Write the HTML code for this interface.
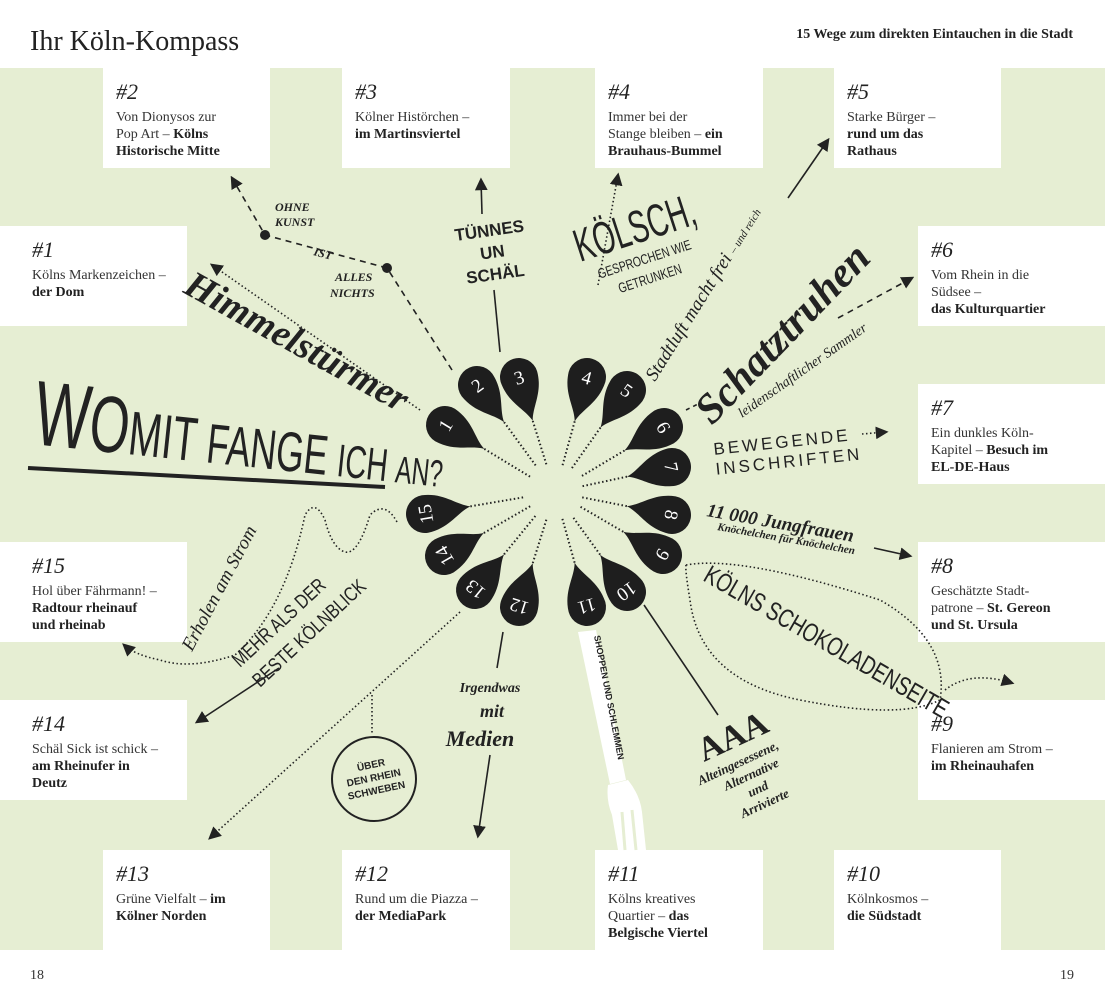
<!DOCTYPE html>
<html><head><meta charset="utf-8"><style>
body{margin:0;background:#fff}
svg{display:block}
.h{font-family:"Liberation Serif",serif;font-style:italic;font-size:22px;fill:#222}
.b{font-family:"Liberation Serif",serif;font-size:14px;fill:#333}
.bb{font-weight:bold;fill:#222}
.pn{font-family:"Liberation Serif",serif;font-size:19px;fill:#fff;text-anchor:middle}
.c{font-family:"Liberation Sans",sans-serif;fill:#222}
.s{font-family:"Liberation Serif",serif;font-style:italic;font-weight:bold;fill:#222}
</style></head><body>
<svg width="1105" height="1000" viewBox="0 0 1105 1000" xmlns="http://www.w3.org/2000/svg">
<defs>
<path id="pin" d="M46 0 C32 4,22 18,0 19 A19 19 0 0 1 0 -19 C22 -18,32 -4,46 0 Z" fill="#1e1e1e"/>
<marker id="ar" viewBox="0 0 10 10" refX="8" refY="5" markerWidth="8" markerHeight="8" orient="auto"><path d="M0 0L10 5L0 10Z" fill="#222"/></marker>
</defs>
<rect x="0" y="68" width="1105" height="882" fill="#e6eed3"/>
<text x="30" y="50" font-family="Liberation Serif,serif" font-size="28" fill="#222">Ihr Köln-Kompass</text>
<text x="1073" y="38" text-anchor="end" font-family="Liberation Serif,serif" font-size="14" font-weight="bold" fill="#222">15 Wege zum direkten Eintauchen in die Stadt</text>
<text x="30" y="979" class="b">18</text><text x="1060" y="979" class="b">19</text>

<g fill="#fff">
<rect x="103" y="68" width="167" height="100"/><rect x="342" y="68" width="168" height="100"/>
<rect x="595" y="68" width="168" height="100"/><rect x="834" y="68" width="167" height="100"/>
<rect x="0" y="226" width="187" height="100"/><rect x="0" y="542" width="187" height="100"/><rect x="0" y="700" width="187" height="100"/>
<rect x="918" y="226" width="187" height="100"/><rect x="918" y="384" width="187" height="100"/><rect x="918" y="542" width="187" height="100"/><rect x="918" y="700" width="187" height="100"/>
<rect x="103" y="850" width="167" height="100"/><rect x="342" y="850" width="168" height="100"/>
<rect x="595" y="850" width="168" height="100"/><rect x="834" y="850" width="167" height="100"/>
</g>
<g>
<text x="116" y="99" class="h">#2</text><text x="116" y="121" class="b">Von Dionysos zur</text><text x="116" y="138" class="b">Pop Art – <tspan class="bb">Kölns</tspan></text><text x="116" y="155" class="b bb">Historische Mitte</text>
<text x="355" y="99" class="h">#3</text><text x="355" y="121" class="b">Kölner Histörchen –</text><text x="355" y="138" class="b bb">im Martinsviertel</text>
<text x="608" y="99" class="h">#4</text><text x="608" y="121" class="b">Immer bei der</text><text x="608" y="138" class="b">Stange bleiben – <tspan class="bb">ein</tspan></text><text x="608" y="155" class="b bb">Brauhaus-Bummel</text>
<text x="847" y="99" class="h">#5</text><text x="847" y="121" class="b">Starke Bürger –</text><text x="847" y="138" class="b bb">rund um das</text><text x="847" y="155" class="b bb">Rathaus</text>
<text x="32" y="257" class="h">#1</text><text x="32" y="279" class="b">Kölns Markenzeichen –</text><text x="32" y="296" class="b bb">der Dom</text>
<text x="32" y="573" class="h">#15</text><text x="32" y="595" class="b">Hol über Fährmann! –</text><text x="32" y="612" class="b bb">Radtour rheinauf</text><text x="32" y="629" class="b bb">und rheinab</text>
<text x="32" y="731" class="h">#14</text><text x="32" y="753" class="b">Schäl Sick ist schick –</text><text x="32" y="770" class="b bb">am Rheinufer in</text><text x="32" y="787" class="b bb">Deutz</text>
<text x="931" y="257" class="h">#6</text><text x="931" y="279" class="b">Vom Rhein in die</text><text x="931" y="296" class="b">Südsee –</text><text x="931" y="313" class="b bb">das Kulturquartier</text>
<text x="931" y="415" class="h">#7</text><text x="931" y="437" class="b">Ein dunkles Köln-</text><text x="931" y="454" class="b">Kapitel – <tspan class="bb">Besuch im</tspan></text><text x="931" y="471" class="b bb">EL-DE-Haus</text>
<text x="931" y="573" class="h">#8</text><text x="931" y="595" class="b">Geschätzte Stadt-</text><text x="931" y="612" class="b">patrone – <tspan class="bb">St. Gereon</tspan></text><text x="931" y="629" class="b bb">und St. Ursula</text>
<text x="931" y="731" class="h">#9</text><text x="931" y="753" class="b">Flanieren am Strom –</text><text x="931" y="770" class="b bb">im Rheinauhafen</text>
<text x="116" y="881" class="h">#13</text><text x="116" y="903" class="b">Grüne Vielfalt – <tspan class="bb">im</tspan></text><text x="116" y="920" class="b bb">Kölner Norden</text>
<text x="355" y="881" class="h">#12</text><text x="355" y="903" class="b">Rund um die Piazza –</text><text x="355" y="920" class="b bb">der MediaPark</text>
<text x="608" y="881" class="h">#11</text><text x="608" y="903" class="b">Kölns kreatives</text><text x="608" y="920" class="b">Quartier – <tspan class="bb">das</tspan></text><text x="608" y="937" class="b bb">Belgische Viertel</text>
<text x="847" y="881" class="h">#10</text><text x="847" y="903" class="b">Kölnkosmos –</text><text x="847" y="920" class="b bb">die Südstadt</text>
</g>

<g fill="#fff">
<path d="M578 632 L596 630 L626 780 L610 784 Z"/>
<path d="M608 785 Q606 800 612 815 L618 850 L646 850 L642 812 Q640 795 628 780 Z"/>
</g>
<g stroke="#e6eed3" stroke-width="3"><line x1="622" y1="812" x2="625" y2="850"/><line x1="632" y1="810" x2="636" y2="850"/></g>
<text transform="translate(594,636) rotate(79)" class="c" font-size="9" font-weight="bold">SHOPPEN UND SCHLEMMEN</text>

<g stroke="#222" stroke-width="2" stroke-dasharray="1.5 2.5" fill="none">
<g transform="translate(445,425) rotate(31.3)"><line x1="46" y1="0" x2="100" y2="0"/></g>
<g transform="translate(477,385) rotate(53.9)"><line x1="46" y1="0" x2="100" y2="0"/></g>
<g transform="translate(519,377) rotate(72.6)"><line x1="46" y1="0" x2="92" y2="0"/></g>
<g transform="translate(587,377) rotate(105.5)"><line x1="46" y1="0" x2="92" y2="0"/></g>
<g transform="translate(627,390) rotate(125.2)"><line x1="46" y1="0" x2="96" y2="0"/></g>
<g transform="translate(664,427) rotate(149.2)"><line x1="46" y1="0" x2="96" y2="0"/></g>
<g transform="translate(672,467) rotate(167.9)"><line x1="46" y1="0" x2="92" y2="0"/></g>
<g transform="translate(672,515) rotate(191.1)"><line x1="46" y1="0" x2="92" y2="0"/></g>
<g transform="translate(663,555) rotate(210.3)"><line x1="46" y1="0" x2="96" y2="0"/></g>
<g transform="translate(627,592) rotate(234.2)"><line x1="46" y1="0" x2="94" y2="0"/></g>
<g transform="translate(587,607) rotate(254.4)"><line x1="46" y1="0" x2="92" y2="0"/></g>
<g transform="translate(519,607) rotate(287.4)"><line x1="46" y1="0" x2="92" y2="0"/></g>
<g transform="translate(475,590) rotate(309.2)"><line x1="46" y1="0" x2="96" y2="0"/></g>
<g transform="translate(444,556) rotate(330)"><line x1="46" y1="0" x2="100" y2="0"/></g>
<g transform="translate(425,514) rotate(350.4)"><line x1="46" y1="0" x2="102" y2="0"/></g>
</g>
<g>
<g transform="translate(445,425) rotate(31.3)"><use href="#pin"/><text transform="rotate(-90)" y="7" class="pn">1</text></g>
<g transform="translate(477,385) rotate(53.9)"><use href="#pin"/><text transform="rotate(-90)" y="7" class="pn">2</text></g>
<g transform="translate(519,377) rotate(72.6)"><use href="#pin"/><text transform="rotate(-90)" y="7" class="pn">3</text></g>
<g transform="translate(587,377) rotate(105.5)"><use href="#pin"/><text transform="rotate(-90)" y="7" class="pn">4</text></g>
<g transform="translate(627,390) rotate(125.2)"><use href="#pin"/><text transform="rotate(-90)" y="7" class="pn">5</text></g>
<g transform="translate(664,427) rotate(149.2)"><use href="#pin"/><text transform="rotate(-90)" y="7" class="pn">6</text></g>
<g transform="translate(672,467) rotate(167.9)"><use href="#pin"/><text transform="rotate(-90)" y="7" class="pn">7</text></g>
<g transform="translate(672,515) rotate(191.1)"><use href="#pin"/><text transform="rotate(-90)" y="7" class="pn">8</text></g>
<g transform="translate(663,555) rotate(210.3)"><use href="#pin"/><text transform="rotate(-90)" y="7" class="pn">9</text></g>
<g transform="translate(627,592) rotate(234.2)"><use href="#pin"/><text transform="rotate(-90)" y="7" class="pn">10</text></g>
<g transform="translate(587,607) rotate(254.4)"><use href="#pin"/><text transform="rotate(-90)" y="7" class="pn">11</text></g>
<g transform="translate(519,607) rotate(287.4)"><use href="#pin"/><text transform="rotate(-90)" y="7" class="pn">12</text></g>
<g transform="translate(475,590) rotate(309.2)"><use href="#pin"/><text transform="rotate(-90)" y="7" class="pn">13</text></g>
<g transform="translate(444,556) rotate(330)"><use href="#pin"/><text transform="rotate(-90)" y="7" class="pn">14</text></g>
<g transform="translate(425,514) rotate(350.4)"><use href="#pin"/><text transform="rotate(-90)" y="7" class="pn">15</text></g>
</g>

<g stroke="#222" stroke-width="1.6" fill="none">
<path d="M452 370 L387 268 L265 235 L232 178" stroke-dasharray="6 5" marker-end="url(#ar)"/>
<path d="M420 410 L212 265" stroke-dasharray="1.5 2.5" marker-end="url(#ar)"/>
<path d="M482 214 L481 180" marker-end="url(#ar)"/>
<path d="M500 352 L494 290"/>
<path d="M598 285 L618 175" stroke-dasharray="1.5 2.5" marker-end="url(#ar)"/>
<path d="M788 198 L828 140" marker-end="url(#ar)"/>
<path d="M838 318 L912 278" stroke-dasharray="6 5" marker-end="url(#ar)"/>
<path d="M686 410 L698 404" stroke-dasharray="4 4"/>
<path d="M862 434 L886 432" stroke-dasharray="1.5 2.5" marker-end="url(#ar)"/>
<path d="M874 548 L910 556" marker-end="url(#ar)"/>
<path d="M644 605 L718 715"/>
<path d="M397 522 Q385 500 370 515 Q358 555 345 552 Q332 548 325 520 Q315 498 305 515 Q285 610 235 655 Q190 670 160 660 Q135 655 124 645" stroke-dasharray="1.5 2.5" marker-end="url(#ar)"/>
<path d="M279 668 L197 722" marker-end="url(#ar)"/>
<path d="M372 695 L372 735" stroke-dasharray="1.5 2.5"/>
<path d="M460 612 L210 838" stroke-dasharray="1.5 2.5" marker-end="url(#ar)"/>
<path d="M490 755 L478 836" marker-end="url(#ar)"/>
<path d="M503 632 L497 668"/>
<path d="M686 565 Q740 555 880 600 Q950 640 940 700 Q900 720 800 700 Q700 680 690 600 Q685 570 686 565 M945 690 Q970 670 1012 683" stroke-dasharray="1.5 2.5" marker-end="url(#ar)"/>
</g>
<g fill="#222"><circle cx="265" cy="235" r="5"/><circle cx="387" cy="268" r="5"/></g>
<circle cx="374" cy="779" r="42" fill="none" stroke="#222" stroke-width="2"/>

<g class="s" font-size="12">
<text x="275" y="211">OHNE</text><text x="275" y="226">KUNST</text>
<text x="313" y="255" transform="rotate(15 313 255)">IST</text>
<text x="335" y="281">ALLES</text><text x="330" y="297">NICHTS</text>
</g>
<text transform="translate(182,292) rotate(29)" font-family="Liberation Serif,serif" font-style="italic" font-weight="bold" font-size="38" fill="#222">Himmelstürmer</text>
<g class="c" font-size="17" font-weight="bold" text-anchor="middle" transform="rotate(-8 492 250)"><text x="492" y="236">TÜNNES</text><text x="492" y="258">UN</text><text x="492" y="280">SCHÄL</text></g>
<g transform="translate(580,262) rotate(-18)" class="c" fill="#222">
<text font-size="46" transform="scale(0.62,1)">KÖLSCH,</text>
<text x="18" y="22" font-size="14" transform="scale(0.75,1)">GESPROCHEN WIE</text>
<text x="38" y="42" font-size="14" transform="scale(0.75,1)">GETRUNKEN</text>
</g>
<text transform="translate(655,382) rotate(-58)" font-family="Liberation Serif,serif" font-style="italic" font-size="19" fill="#222">Stadtluft macht frei <tspan font-size="11">– und reich</tspan></text>
<text transform="translate(712,426) rotate(-46)" font-family="Liberation Serif,serif" font-style="italic" font-weight="bold" font-size="42" fill="#222">Schatztruhen</text>
<text transform="translate(742,418) rotate(-35)" font-family="Liberation Serif,serif" font-style="italic" font-size="14" fill="#222">leidenschaftlicher Sammler</text>
<g class="c" font-size="17" letter-spacing="3" transform="rotate(-6 780 450)"><text x="714" y="448">BEWEGENDE</text><text x="714" y="468">INSCHRIFTEN</text></g>
<text transform="translate(706,516) rotate(10)" class="s" font-size="19">11 000 Jungfrauen</text>
<text transform="translate(717,530) rotate(10)" class="s" font-size="11">Knöchelchen für Knöchelchen</text>
<text transform="translate(702,580) rotate(30) scale(0.75,1)" class="c" font-size="26">KÖLNS SCHOKOLADENSEITE</text>
<text transform="translate(704,762) rotate(-25)" font-family="Liberation Serif,serif" font-weight="bold" font-size="34" fill="#222">AAA</text>
<g transform="translate(690,790) rotate(-25)" class="s" font-size="13" text-anchor="middle"><text x="55">Alteingesessene,</text><text x="62" y="16">Alternative</text><text x="62" y="32">und</text><text x="62" y="48">Arrivierte</text></g>
<g class="s" font-size="16" text-anchor="middle"><text x="490" y="692" font-size="14">Irgendwas</text><text x="492" y="717" font-size="18">mit</text><text x="480" y="746" font-size="22">Medien</text></g>
<g font-family="Liberation Sans,sans-serif" font-size="10" font-weight="bold" fill="#222" text-anchor="middle" transform="rotate(-12 374 779)"><text x="374" y="768">ÜBER</text><text x="374" y="781">DEN RHEIN</text><text x="374" y="794">SCHWEBEN</text></g>
<text transform="translate(240,668) rotate(-43) scale(0.8,1)" class="c" font-size="20">MEHR ALS DER</text>
<text transform="translate(260,688) rotate(-43) scale(0.8,1)" class="c" font-size="20">BESTE KÖLNBLICK</text>
<text transform="translate(192,652) rotate(-62)" font-family="Liberation Serif,serif" font-style="italic" font-size="19" fill="#222">Erholen am Strom</text>
<text transform="translate(32,444) rotate(6) scale(0.64,1)" class="c" fill="#222"><tspan font-size="92">W</tspan><tspan font-size="80">O</tspan><tspan font-size="62">MIT </tspan><tspan font-size="56">FANGE </tspan><tspan font-size="46">ICH </tspan><tspan font-size="38">AN?</tspan></text>
<path d="M28 468 L385 487" stroke="#222" stroke-width="4"/>
</svg>
</body></html>
